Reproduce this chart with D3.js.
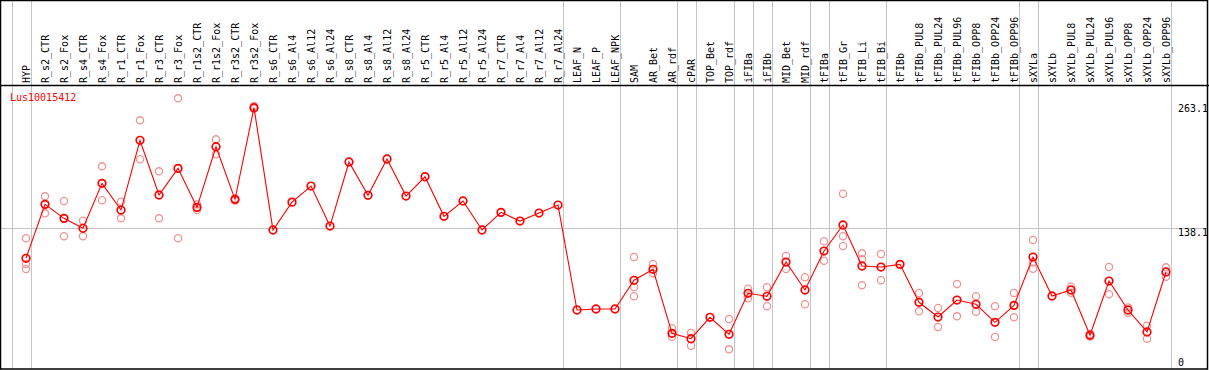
<!DOCTYPE html>
<html>
<head>
<meta charset="utf-8">
<script src="https://cdn.jsdelivr.net/npm/d3@7"></script>
<style>
  html, body { margin: 0; padding: 0; background: #fff; }
  text { font-family: "DejaVu Sans Mono", monospace; font-size: 10px; }
</style>
</head>
<body>
<div class="container"></div>
<script>
const geneName = "Lus10015412";

const categories = [
  "HYP", "R_s2_CTR", "R_s2_Fox", "R_s4_CTR", "R_s4_Fox", "R_r1_CTR", "R_r1_Fox", "R_r3_CTR", "R_r3_Fox",
  "R_r1s2_CTR", "R_r1s2_Fox", "R_r3s2_CTR", "R_r3s2_Fox",
  "R_s6_CTR", "R_s6_Al4", "R_s6_Al12", "R_s6_Al24", "R_s8_CTR", "R_s8_Al4", "R_s8_Al12", "R_s8_Al24",
  "R_r5_CTR", "R_r5_Al4", "R_r5_Al12", "R_r5_Al24", "R_r7_CTR", "R_r7_Al4", "R_r7_Al12", "R_r7_Al24",
  "LEAF_N", "LEAF_P", "LEAF_NPK", "SAM", "AR_Bet", "AR_rdf", "cPAR", "TOP_Bet", "TOP_rdf",
  "iFIBa", "iFIBb", "MID_Bet", "MID_rdf", "tFIBa", "tFIB_Gr", "tFIB_Li", "tFIB_Bi", "tFIBb",
  "tFIBb_PUL8", "tFIBb_PUL24", "tFIBb_PUL96", "tFIBb_OPP8", "tFIBb_OPP24", "tFIBb_OPP96",
  "sXYLa", "sXYLb", "sXYLb_PUL8", "sXYLb_PUL24", "sXYLb_PUL96", "sXYLb_OPP8", "sXYLb_OPP24", "sXYLb_OPP96"
];

// mean expression per sample
const meanValues = [
  107.0, 162.9, 148.4, 138.1, 184.7, 157.0, 229.3, 172.6, 200.2,
  159.8, 222.6, 168.1, 263.1,
  136.3, 165.2, 181.9, 140.4, 206.8, 172.3, 209.9, 171.5,
  191.5, 150.5, 166.4, 136.3, 154.6, 145.6, 153.9, 162.2,
  53.4, 54.4, 54.4, 84.2, 95.6, 29.2, 23.6, 45.8, 28.2,
  70.7, 67.6, 103.1, 74.1, 114.5, 141.5, 99.0, 97.9, 100.7,
  61.4, 46.1, 63.7, 59.3, 40.6, 58.2,
  108.3, 67.9, 74.1, 27.2, 83.4, 53.4, 30.6, 92.8
];

// individual replicates (empty where only the mean is shown)
const replicateValues = [
  [127.7, 101.1, 95.9], [171.2, 153.6], [166.4, 129.8], [145.9, 129.8], [202.3, 167.1],
  [165.6, 148.4], [250.0, 209.6], [197.1, 148.4], [272.8, 127.7],
  [162.9, 157.0], [230.3, 214.8], [169.0, 167.0], [264.8, 262.0],
  [], [], [], [], [], [], [], [],
  [], [], [], [], [], [], [], [],
  [], [], [], [108.3, 77.2, 67.6], [101.1, 91.4], [34.4, 25.7], [29.5, 16.4], [], [44.1, 12.6],
  [75.5, 65.5], [76.9, 57.2], [109.4, 95.9], [87.3, 59.3], [124.6, 104.5], [173.9, 129.8, 119.7],
  [112.1, 105.9, 79.0], [111.4, 84.2], [],
  [71.0, 52.0], [55.5, 35.8], [80.3, 46.8], [67.6, 51.6], [57.2, 25.4], [71.0, 45.8],
  [125.9, 103.0, 96.2], [], [77.5, 71.3], [28.5, 26.0], [97.9, 69.7], [56.0, 50.6], [37.1, 23.6], [97.6, 87.9]
];

// a grey separator is drawn after each of these samples
const groupEnds = [
  "HYP", "R_r7_Al24", "LEAF_NPK", "AR_rdf", "cPAR", "TOP_rdf", "iFIBa", "iFIBb",
  "MID_rdf", "tFIBa", "tFIB_Bi", "tFIBb_OPP96", "sXYLa", "sXYLb_OPP96"
];

const yTicks = [0, 138.1, 263.1];
const gridValues = [138.1];

const width = 1209;
const height = 370;
const headerBottom = 85;

const svg = d3.select(".container").append("svg")
  .attr("width", width)
  .attr("height", height)
  .style("display", "block");

const x = d3.scalePoint()
  .domain(categories)
  .range([26, 1166]);

const y = d3.scaleLinear()
  .domain([0, 263.1])
  .range([361.5, 107.7]);

const step = x.step();
const sepOffset = 4.5;

// grey horizontal gridline
svg.append("g")
  .selectAll("line")
  .data(gridValues)
  .enter()
  .append("line")
  .attr("x1", 1)
  .attr("x2", width - 2)
  .attr("y1", d => Math.round(y(d)) + 0.5)
  .attr("y2", d => Math.round(y(d)) + 0.5)
  .attr("stroke", "#c4c4c4")
  .attr("stroke-width", 1);

// grey vertical separators
const sepX = [x(categories[0]) - step + sepOffset].concat(groupEnds.map(c => x(c) + sepOffset));
svg.append("g")
  .selectAll("line")
  .data(sepX)
  .enter()
  .append("line")
  .attr("x1", d => Math.round(d) + 0.5)
  .attr("x2", d => Math.round(d) + 0.5)
  .attr("y1", 1)
  .attr("y2", height - 1)
  .attr("stroke", "#c4c4c4")
  .attr("stroke-width", 1);

// frame + header separator
svg.append("rect")
  .attr("x", 0.5)
  .attr("y", 0.5)
  .attr("width", width - 2)
  .attr("height", height - 1.5)
  .attr("fill", "none")
  .attr("stroke", "black")
  .attr("stroke-width", 1.5);

svg.append("line")
  .attr("x1", 0)
  .attr("x2", width)
  .attr("y1", headerBottom + 0.5)
  .attr("y2", headerBottom + 0.5)
  .attr("stroke", "black")
  .attr("stroke-width", 1.5);

// rotated sample names
svg.append("g")
  .selectAll("text")
  .data(categories)
  .enter()
  .append("text")
  .attr("transform", d => `translate(${x(d) + 4},${headerBottom - 2}) rotate(-90)`)
  .attr("fill", "black")
  .text(d => d);

// replicates
const reps = [];
categories.forEach((c, i) => replicateValues[i].forEach(v => reps.push({ cat: c, value: v })));
svg.append("g")
  .selectAll("circle")
  .data(reps)
  .enter()
  .append("circle")
  .attr("cx", d => x(d.cat))
  .attr("cy", d => y(d.value))
  .attr("r", 3.6)
  .attr("fill", "none")
  .attr("stroke", "rgb(238,150,150)")
  .attr("stroke-width", 1.3);

const means = categories.map((c, i) => ({ cat: c, value: meanValues[i] }));

const line = d3.line()
  .x(d => x(d.cat))
  .y(d => y(d.value));

svg.append("path")
  .datum(means)
  .attr("fill", "none")
  .attr("stroke", "red")
  .attr("stroke-width", 1.1)
  .attr("d", line);

svg.append("g")
  .selectAll("circle")
  .data(means)
  .enter()
  .append("circle")
  .attr("cx", d => x(d.cat))
  .attr("cy", d => y(d.value))
  .attr("r", 3.8)
  .attr("fill", "none")
  .attr("stroke", "red")
  .attr("stroke-width", 1.7);

// y labels on the right
svg.append("g")
  .selectAll("text")
  .data(yTicks)
  .enter()
  .append("text")
  .attr("x", 1178)
  .attr("y", d => y(d) + (gridValues.includes(d) ? 8 : 4))
  .attr("fill", "black")
  .text(d => d === 0 ? "0" : d3.format(".1f")(d));

svg.append("text")
  .attr("x", 10)
  .attr("y", 101)
  .attr("fill", "red")
  .text(geneName);
</script>
</body>
</html>
